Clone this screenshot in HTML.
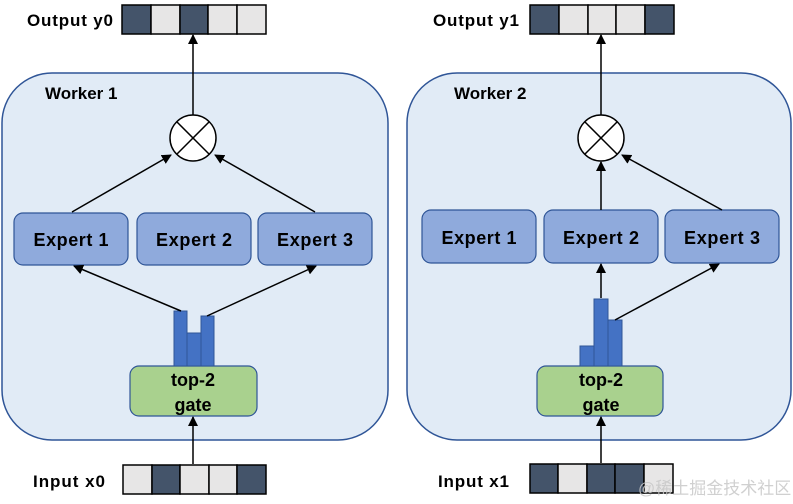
<!DOCTYPE html>
<html><head><meta charset="utf-8"><style>
html,body{margin:0;padding:0;background:#fff;}
svg{display:block;}
text{font-family:"Liberation Sans","Noto Sans CJK SC",sans-serif;font-weight:bold;fill:#000;}
</style></head><body>
<svg width="793" height="504" viewBox="0 0 793 504" xmlns="http://www.w3.org/2000/svg">
<defs>
<marker id="a" viewBox="0 0 10 10" refX="9" refY="5" markerWidth="10" markerHeight="10" markerUnits="userSpaceOnUse" orient="auto">
<path d="M0,0 L10,5 L0,10 z" fill="#000"/></marker>
</defs>
<rect x="2" y="73" width="386" height="367" rx="50" fill="#e1ebf6" stroke="#2f5597" stroke-width="1.5"/>
<rect x="407" y="73" width="384" height="367" rx="50" fill="#e1ebf6" stroke="#2f5597" stroke-width="1.5"/>
<text x="45" y="99" font-size="17">Worker 1</text>
<text x="454" y="99" font-size="17">Worker 2</text>
<text x="27" y="26" font-size="17" textLength="86">Output y0</text>
<text x="433" y="26" font-size="17" textLength="86">Output y1</text>
<text x="33" y="487" font-size="17" textLength="72">Input x0</text>
<text x="438" y="487" font-size="17" textLength="71">Input x1</text>
<g stroke="#000" stroke-width="1.5">
<rect x="122" y="5" width="29" height="29" fill="#44546a"/><rect x="151" y="5" width="29" height="29" fill="#e7e6e6"/><rect x="180" y="5" width="28" height="29" fill="#44546a"/><rect x="208" y="5" width="29" height="29" fill="#e7e6e6"/><rect x="237" y="5" width="29" height="29" fill="#e7e6e6"/>
<rect x="530" y="5" width="29" height="29" fill="#44546a"/><rect x="559" y="5" width="29" height="29" fill="#e7e6e6"/><rect x="588" y="5" width="28" height="29" fill="#e7e6e6"/><rect x="616" y="5" width="29" height="29" fill="#e7e6e6"/><rect x="645" y="5" width="29" height="29" fill="#44546a"/>
<rect x="123" y="465" width="29" height="29" fill="#e7e6e6"/><rect x="152" y="465" width="28" height="29" fill="#44546a"/><rect x="180" y="465" width="29" height="29" fill="#e7e6e6"/><rect x="209" y="465" width="28" height="29" fill="#e7e6e6"/><rect x="237" y="465" width="29" height="29" fill="#44546a"/>
<rect x="530" y="464" width="28" height="29" fill="#44546a"/><rect x="558" y="464" width="29" height="29" fill="#e7e6e6"/><rect x="587" y="464" width="28" height="29" fill="#44546a"/><rect x="615" y="464" width="29" height="29" fill="#44546a"/><rect x="644" y="464" width="29" height="29" fill="#e7e6e6"/>
</g>
<g fill="#8faadc" stroke="#2f5597" stroke-width="1.2">
<rect x="14" y="213" width="114" height="52" rx="9"/><rect x="137" y="213" width="114" height="52" rx="9"/><rect x="258" y="213" width="114" height="52" rx="9"/>
<rect x="422" y="210" width="114" height="53" rx="9"/><rect x="544" y="210" width="114" height="53" rx="9"/><rect x="665" y="210" width="114" height="53" rx="9"/>
</g>
<g font-size="18" text-anchor="middle">
<text x="71" y="246" textLength="75">Expert 1</text><text x="194" y="246" textLength="76">Expert 2</text><text x="315" y="246" textLength="76">Expert 3</text>
<text x="479" y="244" textLength="75">Expert 1</text><text x="601" y="244" textLength="76">Expert 2</text><text x="722" y="244" textLength="76">Expert 3</text>
</g>
<g fill="#a9d18e" stroke="#2f5597" stroke-width="1.2">
<rect x="130" y="366" width="127" height="50" rx="9"/><rect x="537" y="366" width="126" height="50" rx="9"/>
</g>
<g font-size="18" text-anchor="middle">
<text x="193" y="386">top-2</text><text x="193" y="411">gate</text>
<text x="601" y="386">top-2</text><text x="601" y="411">gate</text>
</g>
<g fill="#4472c4" stroke="#2f5597" stroke-width="1">
<rect x="174" y="311" width="13" height="55"/><rect x="187" y="333" width="14" height="33"/><rect x="201" y="316" width="13" height="50"/>
<rect x="580" y="346" width="14" height="20"/><rect x="594" y="299" width="14" height="67"/><rect x="608" y="320" width="14" height="46"/>
</g>
<g fill="#fff" stroke="#000" stroke-width="1.5">
<circle cx="193" cy="138" r="23"/><circle cx="601" cy="138" r="23"/>
</g>
<g stroke="#000" stroke-width="1.5">
<line x1="177" y1="122" x2="209" y2="154"/><line x1="209" y1="122" x2="177" y2="154"/>
<line x1="585" y1="122" x2="617" y2="154"/><line x1="617" y1="122" x2="585" y2="154"/>
</g>
<g stroke="#000" stroke-width="1.5" marker-end="url(#a)">
<line x1="193" y1="115" x2="193" y2="35"/>
<line x1="601" y1="115" x2="601" y2="35"/>
<line x1="72" y1="212" x2="171" y2="155"/>
<line x1="315" y1="212" x2="215" y2="155"/>
<line x1="601" y1="210" x2="601" y2="162"/>
<line x1="722" y1="210" x2="622" y2="155"/>
<line x1="181" y1="311" x2="74" y2="266"/>
<line x1="207" y1="316" x2="316" y2="266"/>
<line x1="601" y1="298" x2="601" y2="264"/>
<line x1="615" y1="320" x2="719" y2="264"/>
<line x1="193" y1="464" x2="193" y2="417"/>
<line x1="601" y1="463" x2="601" y2="417"/>
</g>
<text x="638" y="494" font-size="17" style="font-weight:normal;fill:#c8c8c8;opacity:0.85">@稀土掘金技术社区</text>
</svg>
</body></html>
